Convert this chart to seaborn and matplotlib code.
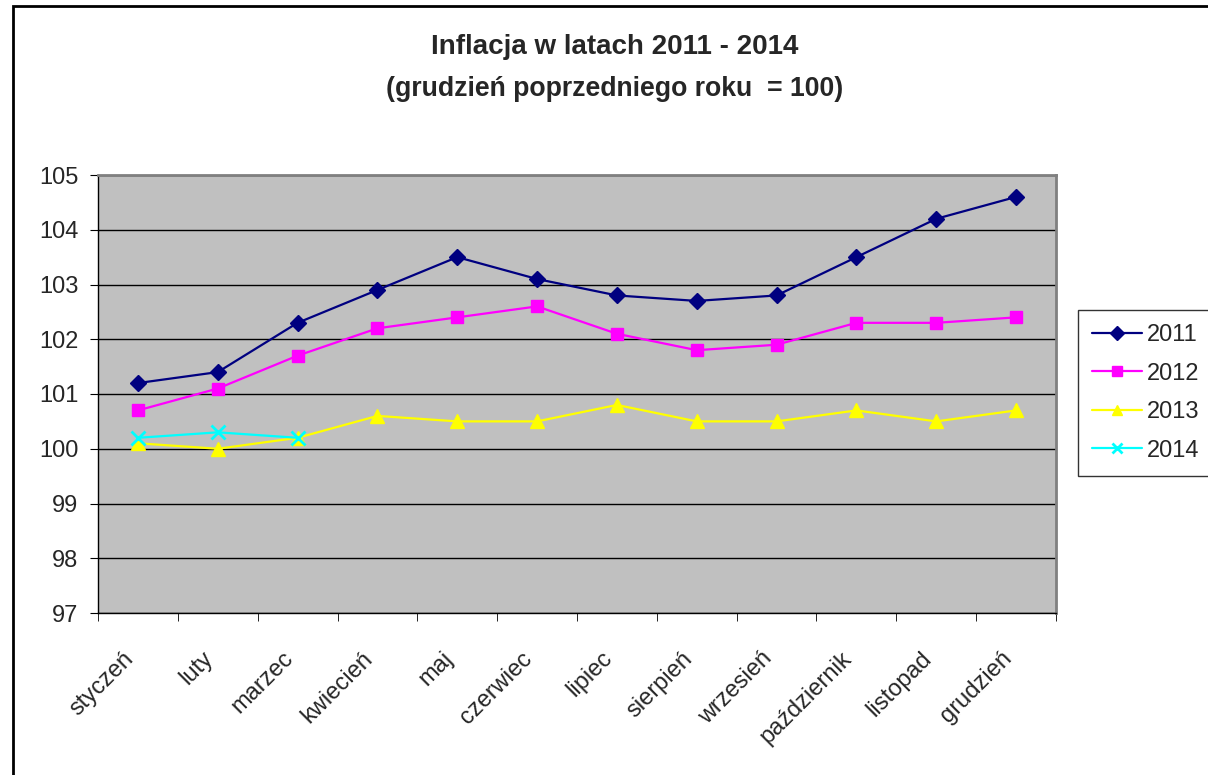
import matplotlib.pyplot as plt
import pandas as pd
import seaborn as sns
from matplotlib.patches import Rectangle

months = ['styczeń', 'luty', 'marzec', 'kwiecień', 'maj', 'czerwiec', 'lipiec',
          'sierpień', 'wrzesień', 'październik', 'listopad', 'grudzień']
v2011 = [101.2, 101.4, 102.3, 102.9, 103.5, 103.1, 102.8, 102.7, 102.8, 103.5, 104.2, 104.6]
v2012 = [100.7, 101.1, 101.7, 102.2, 102.4, 102.6, 102.1, 101.8, 101.9, 102.3, 102.3, 102.4]
v2013 = [100.1, 100.0, 100.2, 100.6, 100.5, 100.5, 100.8, 100.5, 100.5, 100.7, 100.5, 100.7]
v2014 = [100.2, 100.3, 100.2]
y_ticks = [97, 98, 99, 100, 101, 102, 103, 104, 105]

series = {'2011': v2011, '2012': v2012, '2013': v2013, '2014': v2014}
styles = {
    '2011': dict(color='#000080', marker='D', ms=8),
    '2012': dict(color='#FF00FF', marker='s', ms=8),
    '2013': dict(color='#FFFF00', marker='^', ms=10),
    '2014': dict(color='#00FFFF', marker='x', ms=10),
}

sns.set_style('white')
plt.rcParams['font.family'] = ['Liberation Sans', 'DejaVu Sans']

fig = plt.figure(figsize=(12.08, 7.75), dpi=100)
ax = fig.add_axes([98 / 1208, 1 - 613 / 775, (1056 - 98) / 1208, (613 - 175) / 775])

# outer chart border
fig.patches.append(Rectangle((13 / 1208, -0.1), 1.2, 1 - 6 / 775 + 0.1,
                             transform=fig.transFigure, fill=False,
                             edgecolor='black', lw=2))

for year, vals in series.items():
    df = pd.DataFrame({'pos': range(len(vals)), 'value': vals})
    st = styles[year]
    sns.lineplot(data=df, x='pos', y='value', ax=ax, color=st['color'], lw=1.6,
                 marker=st['marker'], markersize=st['ms'],
                 markeredgecolor=st['color'], markeredgewidth=2 if year == '2014' else 1,
                 label=year)

ax.set_facecolor('#C0C0C0')
ax.set_xlim(-0.5, len(months) - 0.5)
ax.set_ylim(97, 105)
ax.set_yticks(y_ticks)
ax.set_yticklabels([str(t) for t in y_ticks], fontsize=17)
ax.grid(axis='y', color='black', lw=1)
ax.set_axisbelow(True)

ax.set_xticks(range(len(months)))
ax.set_xticklabels(months, rotation=45, ha='right', va='bottom',
                   rotation_mode='anchor', fontsize=17)
ax.set_xticks([i - 0.5 for i in range(len(months) + 1)], minor=True)
ax.tick_params(axis='x', which='major', length=0, pad=36)
ax.tick_params(axis='x', which='minor', length=6, direction='out', color='black', bottom=True)
ax.tick_params(axis='y', length=6, direction='out', color='black', left=True, pad=8)
ax.set_xlabel('')
ax.set_ylabel('')

for side in ['top', 'right']:
    ax.spines[side].set_color('#808080')
    ax.spines[side].set_linewidth(2)
for side in ['left', 'bottom']:
    ax.spines[side].set_color('black')
    ax.spines[side].set_linewidth(1)

leg = ax.legend(loc='upper left', bbox_to_anchor=(1078 / 1208, 1 - 310 / 775),
                bbox_transform=fig.transFigure, fontsize=17, frameon=True,
                fancybox=False, edgecolor='black', borderaxespad=0,
                handlelength=2.1, labelspacing=0.7, borderpad=0.6, handletextpad=0.22)
leg.get_frame().set_linewidth(1)
for h in leg.legend_handles:
    h.set_markersize(7)

fig.text(0.509, 1 - 47 / 775, 'Inflacja w latach 2011 - 2014', ha='center', va='center',
         fontsize=20, fontweight='bold')
fig.text(0.509, 1 - 89 / 775, '(grudzień poprzedniego roku  = 100)', ha='center', va='center',
         fontsize=19.2, fontweight='bold')

fig.savefig('out.png', dpi=100)
